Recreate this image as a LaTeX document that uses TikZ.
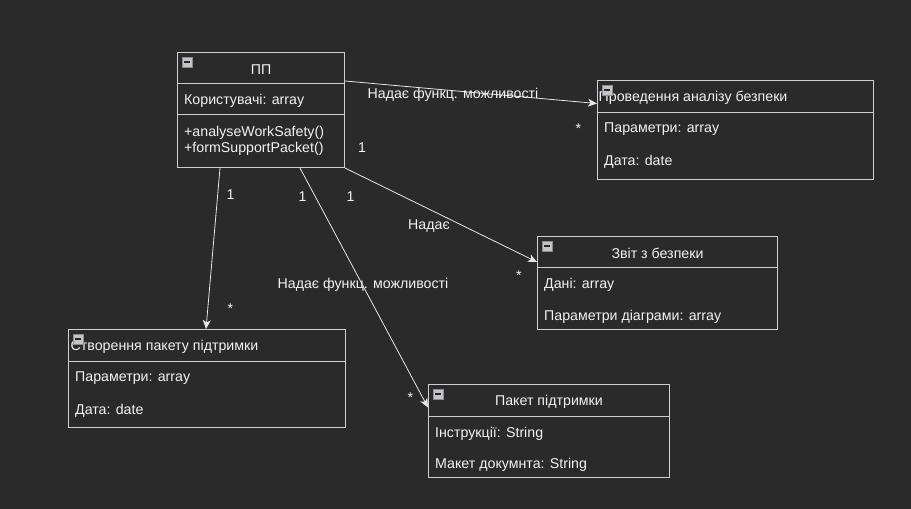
\documentclass[tikz,border=0pt]{standalone}
\usepackage{fontspec}
\setmainfont{Liberation Sans}
\usetikzlibrary{arrows.meta,calc}
\definecolor{bg}{HTML}{2A2A2A}
\definecolor{ln}{HTML}{D0D0D0}
\definecolor{eg}{HTML}{E6E6E6}
\definecolor{tx}{HTML}{F2F2F2}
\definecolor{icfill}{HTML}{C4C4C4}
\definecolor{icdraw}{HTML}{8C8C96}
\begin{document}
\begin{tikzpicture}[x=1pt,y=-1pt,
  every node/.style={font=\fontsize{14.2}{16}\selectfont, text=tx, inner sep=0pt},
  part/.style={draw=ln, line width=1pt, rectangle, anchor=north west},
  txt/.style={yshift=-1.5pt},
  attr/.style={anchor=west, txt},
  lbl/.style={txt},
  edge/.style={draw=eg, line width=0.8pt, -{Stealth[length=9pt,width=8pt,inset=2.5pt]}},
  icon/.style={draw=icdraw, fill=icfill, line width=0.8pt, minimum size=10pt, rectangle,
    path picture={\fill[black!85] ([xshift=2pt,yshift=-0.9pt]path picture bounding box.west) rectangle ([xshift=-2pt,yshift=0.9pt]path picture bounding box.east);}}
]
\fill[bg] (0,0) rectangle (911,509);
\useasboundingbox (0,0) rectangle (911,509);

% ---- ПП
\node[part, minimum width=167pt, minimum height=31pt] (pp) at (177,52) {};
\node[part, minimum width=167pt, minimum height=31pt] (ppA) at (177,83) {};
\node[part, minimum width=167pt, minimum height=53pt] (ppM) at (177,114) {};
\node[txt] (ppT) at (pp.center) {ПП};
\node[attr] (ppA1) at (184,99) {Користувачі: array};
\node[attr] (ppM1) at (184,131) {+analyseWorkSafety()};
\node[attr] (ppM2) at (184,147) {+formSupportPacket()};
\node[icon] (ppI) at (187,62) {};

% ---- Проведення аналізу безпеки
\node[part, minimum width=276pt, minimum height=32pt] (prov) at (597,80) {};
\node[part, minimum width=276pt, minimum height=67pt] (provA) at (597,112) {};
\node[anchor=west, txt] (provT) at (598.5,96) {Проведення аналізу безпеки};
\node[attr] (provA1) at (604,128) {Параметри: array};
\node[attr] (provA2) at (604,160) {Дата: date};
\node[icon] (provI) at (607,90) {};

% ---- Звіт з безпеки
\node[part, minimum width=240pt, minimum height=31pt] (zvit) at (537,236) {};
\node[part, minimum width=240pt, minimum height=62pt] (zvitA) at (537,267) {};
\node[txt] (zvitT) at (zvit.center) {Звіт з безпеки};
\node[attr] (zvitA1) at (544,283) {Дані: array};
\node[attr] (zvitA2) at (544,315) {Параметри діаграми: array};
\node[icon] (zvitI) at (547,246) {};

% ---- Створення пакету підтримки
\node[part, minimum width=277pt, minimum height=32pt] (stv) at (68,329) {};
\node[part, minimum width=277pt, minimum height=66pt] (stvA) at (68,361) {};
\node[anchor=west, txt] (stvT) at (70.5,345) {Створення пакету підтримки};
\node[attr] (stvA1) at (75,377) {Параметри: array};
\node[attr] (stvA2) at (75,409) {Дата: date};
\node[icon] (stvI) at (78,339) {};

% ---- Пакет підтримки
\node[part, minimum width=241pt, minimum height=32pt] (pak) at (428,384) {};
\node[part, minimum width=241pt, minimum height=61pt] (pakA) at (428,416) {};
\node[txt] (pakT) at (pak.center) {Пакет підтримки};
\node[attr] (pakA1) at (435,432) {Інструкції: String};
\node[attr] (pakA2) at (435,463) {Макет докумнта: String};
\node[icon] (pakI) at (438,394) {};

% ---- connectors
\draw[edge] ([yshift=2pt]ppA.north east) -- ([yshift=-7pt]prov.west);
\draw[edge] (ppM.south east) -- ([yshift=6pt]zvit.south west);
\draw[edge] ([xshift=43pt]ppM.south west) -- ([xshift=138pt]stv.north west);
\draw[edge] ([xshift=123pt]ppM.south west) -- ([yshift=-7pt]pak.west);

% ---- labels
\node[lbl] (l1) at (453,93) {Надає функц. можливості};
\node[lbl] (l1s) at (362,146) {1};
\node[lbl] (l1t) at (578.5,127) {*};
\node[lbl] (l2) at (429,225) {Надає};
\node[lbl] (l2s) at (350.5,195) {1};
\node[lbl] (l2t) at (519,274) {*};
\node[lbl] (l3s) at (230.5,193) {1};
\node[lbl] (l3t) at (230.5,307) {*};
\node[lbl] (l4) at (363,283) {Надає функц. можливості};
\node[lbl] (l4s) at (302.5,195) {1};
\node[lbl] (l4t) at (410.5,396) {*};
\end{tikzpicture}
\end{document}
